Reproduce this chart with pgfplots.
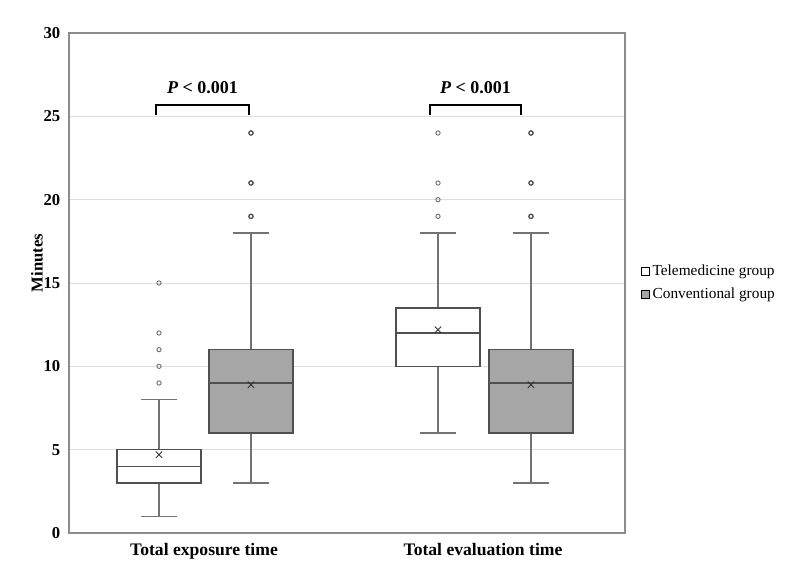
\documentclass[border=0pt]{standalone}
\usepackage{fontspec}
\setmainfont{Liberation Serif}
\usepackage{pgfplots}
\pgfplotsset{compat=1.18}
\definecolor{boxedge}{RGB}{80,80,80}
\definecolor{whiskgray}{RGB}{115,115,115}
\definecolor{boxfill}{RGB}{166,166,166}
\definecolor{gridgray}{RGB}{222,222,222}
\definecolor{axisgray}{RGB}{140,140,140}
\begin{document}
\begin{tikzpicture}
% frame the page to the reference's size (1 px = 0.75pt)
\useasboundingbox (-51.75pt,-34.5pt) rectangle (548.25pt,399.75pt);
\begin{axis}[
  at={(0pt,0pt)}, anchor=south west,
  scale only axis,
  width=417pt, height=375pt,
  xmin=69, xmax=625,
  ymin=0, ymax=30,
  ytick={0,5,...,30},
  xtick={204,483},
  xticklabels={Total exposure time, Total evaluation time},
  major tick length=0pt,
  ymajorgrids,
  grid style={gridgray, line width=0.6pt},
  axis line style={axisgray, line width=0.8pt},
  /pgf/number format/assume math mode=true,
  yticklabel style={font=\fontsize{12.5}{14}\selectfont\bfseries, xshift=-3pt},
  xticklabel style={font=\fontsize{13.2}{15}\selectfont\bfseries, yshift=-4pt},
  ylabel={Minutes},
  every axis y label/.style={at={(rel axis cs:0,0.54)}, xshift=-24pt, rotate=90,
    anchor=center, font=\fontsize{12.5}{14}\selectfont\bfseries},
  legend style={at={(1.0216,0.5)}, anchor=west, draw=none, fill=none,
    font=\fontsize{11.5}{13}\selectfont, row sep=4pt,
    /tikz/every even column/.append style={column sep=1pt}},
  legend cell align=left,
  clip=false,
]
\addlegendimage{legend image code/.code={\draw[black, line width=0.5pt, fill=white] (0pt,-3pt) rectangle (6pt,3pt);}}
\addlegendentry{Telemedicine group}
\addlegendimage{legend image code/.code={\draw[black, line width=0.5pt, fill=boxfill] (0pt,-3pt) rectangle (6pt,3pt);}}
\addlegendentry{Conventional group}

% ---- exposure time, telemedicine (min 1, Q1 3, median 4, Q3 5, max 8)
\addplot[whiskgray, line width=0.8pt] coordinates {(159,1)(159,3)};
\addplot[whiskgray, line width=0.8pt] coordinates {(159,5)(159,8)};
\addplot[whiskgray, line width=0.8pt] coordinates {(141,1)(177,1)};
\addplot[whiskgray, line width=0.8pt] coordinates {(141,8)(177,8)};
\addplot[draw=boxedge, fill=white, line width=0.8pt] coordinates {(117,3)(201,3)(201,5)(117,5)} -- cycle;
\addplot[boxedge, line width=0.8pt] coordinates {(117,4)(201,4)};

% ---- exposure time, conventional (min 3, Q1 6, median 9, Q3 11, max 18)
\addplot[whiskgray, line width=0.8pt] coordinates {(251,3)(251,6)};
\addplot[whiskgray, line width=0.8pt] coordinates {(251,11)(251,18)};
\addplot[whiskgray, line width=0.8pt] coordinates {(233,3)(269,3)};
\addplot[whiskgray, line width=0.8pt] coordinates {(233,18)(269,18)};
\addplot[draw=boxedge, fill=boxfill, line width=0.8pt] coordinates {(209,6)(293,6)(293,11)(209,11)} -- cycle;
\addplot[boxedge, line width=0.8pt] coordinates {(209,9)(293,9)};

% ---- evaluation time, telemedicine (min 6, Q1 10, median 12, Q3 13.5, max 18)
\addplot[whiskgray, line width=0.8pt] coordinates {(438,6)(438,10)};
\addplot[whiskgray, line width=0.8pt] coordinates {(438,13.5)(438,18)};
\addplot[whiskgray, line width=0.8pt] coordinates {(420,6)(456,6)};
\addplot[whiskgray, line width=0.8pt] coordinates {(420,18)(456,18)};
\addplot[draw=boxedge, fill=white, line width=0.8pt] coordinates {(396,10)(480,10)(480,13.5)(396,13.5)} -- cycle;
\addplot[boxedge, line width=0.8pt] coordinates {(396,12)(480,12)};

% ---- evaluation time, conventional (min 3, Q1 6, median 9, Q3 11, max 18)
\addplot[whiskgray, line width=0.8pt] coordinates {(531,3)(531,6)};
\addplot[whiskgray, line width=0.8pt] coordinates {(531,11)(531,18)};
\addplot[whiskgray, line width=0.8pt] coordinates {(513,3)(549,3)};
\addplot[whiskgray, line width=0.8pt] coordinates {(513,18)(549,18)};
\addplot[draw=boxedge, fill=boxfill, line width=0.8pt] coordinates {(489,6)(573,6)(573,11)(489,11)} -- cycle;
\addplot[boxedge, line width=0.8pt] coordinates {(489,9)(573,9)};

% outliers
\addplot[only marks, mark=o, mark size=1.6pt, mark options={draw=whiskgray, fill=white, line width=0.7pt}]
  coordinates {(159,9)(159,10)(159,11)(159,12)(159,15)(438,19)(438,20)(438,21)(438,24)};
\addplot[only marks, mark=o, mark size=1.6pt, mark options={draw=boxedge, fill=white, line width=1pt}]
  coordinates {(251,19)(251,21)(251,24)(531,19)(531,21)(531,24)};

% means
\addplot[only marks, mark=x, mark size=3.3pt, draw=black!80, line width=0.7pt]
  coordinates {(159,4.7)(251,8.9)(438,12.2)(531,8.9)};

% significance brackets
\draw[line width=1.6pt] (axis cs:156,25.05) -- (axis cs:156,25.7) -- (axis cs:249,25.7) -- (axis cs:249,25.05);
\draw[line width=1.6pt] (axis cs:430,25.05) -- (axis cs:430,25.7) -- (axis cs:521,25.7) -- (axis cs:521,25.05);
\node[font=\fontsize{13.5}{15}\selectfont\bfseries] at (axis cs:202.5,26.75) {\textit{P} < 0.001};
\node[font=\fontsize{13.5}{15}\selectfont\bfseries] at (axis cs:475.5,26.75) {\textit{P} < 0.001};
\end{axis}
\end{tikzpicture}
\end{document}
